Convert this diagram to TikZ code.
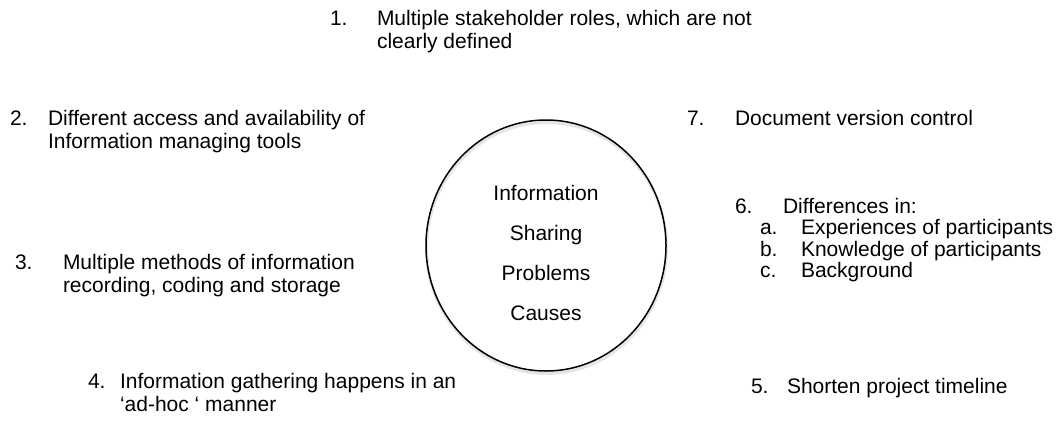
\documentclass[tikz,border=0pt]{standalone}
\usepackage{fontspec}
\setmainfont{Liberation Sans}
\usetikzlibrary{shapes.geometric}
\tikzset{
  txt/.style={inner sep=0pt, outer sep=0pt, anchor=base west, font=\fontsize{21}{24}\selectfont},
  ctxt/.style={inner sep=0pt, outer sep=0pt, anchor=base, font=\fontsize{21}{24}\selectfont},
  hub/.style={draw=black, line width=1.5pt, ellipse, minimum width=240pt, minimum height=251pt, inner sep=0pt},
  hubshadow/.style={draw=black, line width=3pt, opacity=0.10, ellipse, minimum width=240pt, minimum height=251pt, inner sep=0pt}
}
\begin{document}
\begin{tikzpicture}[x=1pt,y=-1pt]
\useasboundingbox (0,0) rectangle (1059,429);
% central ellipse with a soft shadow
\node[hubshadow] (hubsh) at (546.5,248) {};
\node[hub] (hub) at (546,245.5) {};
\node[ctxt] (c1) at (546,200) {Information};
\node[ctxt] (c2) at (546,240) {Sharing};
\node[ctxt] (c3) at (546,280) {Problems};
\node[ctxt] (c4) at (546,320) {Causes};
% 1
\node[txt] (n1) at (330,25) {1.};
\node[txt] (t1a) at (377,25) {Multiple stakeholder roles, which are not};
\node[txt] (t1b) at (377,48) {clearly defined};
% 2
\node[txt] (n2) at (10,125) {2.};
\node[txt] (t2a) at (48,125) {Different access and availability of};
\node[txt] (t2b) at (48,148) {Information managing tools};
% 3
\node[txt] (n3) at (15,269) {3.};
\node[txt] (t3a) at (63,269) {Multiple methods of information};
\node[txt] (t3b) at (63,292) {recording, coding and storage};
% 4
\node[txt] (n4) at (88,388) {4.};
\node[txt] (t4a) at (120,388) {Information gathering happens in an};
\node[txt] (t4b) at (120,411) {‘ad-hoc ‘ manner};
% 5
\node[txt] (n5) at (751,393) {5.};
\node[txt] (t5) at (787,393) {Shorten project timeline};
% 6
\node[txt] (n6) at (735,213) {6.};
\node[txt] (t6) at (783,213) {Differences in:};
\node[txt] (n6a) at (760,234.5) {a.};
\node[txt] (t6a) at (801,234.5) {Experiences of participants};
\node[txt] (n6b) at (760,256) {b.};
\node[txt] (t6b) at (801,256) {Knowledge of participants};
\node[txt] (n6c) at (760,277.5) {c.};
\node[txt] (t6c) at (801,277.5) {Background};
% 7
\node[txt] (n7) at (687,125) {7.};
\node[txt] (t7) at (735,125) {Document version control};
\end{tikzpicture}
\end{document}
